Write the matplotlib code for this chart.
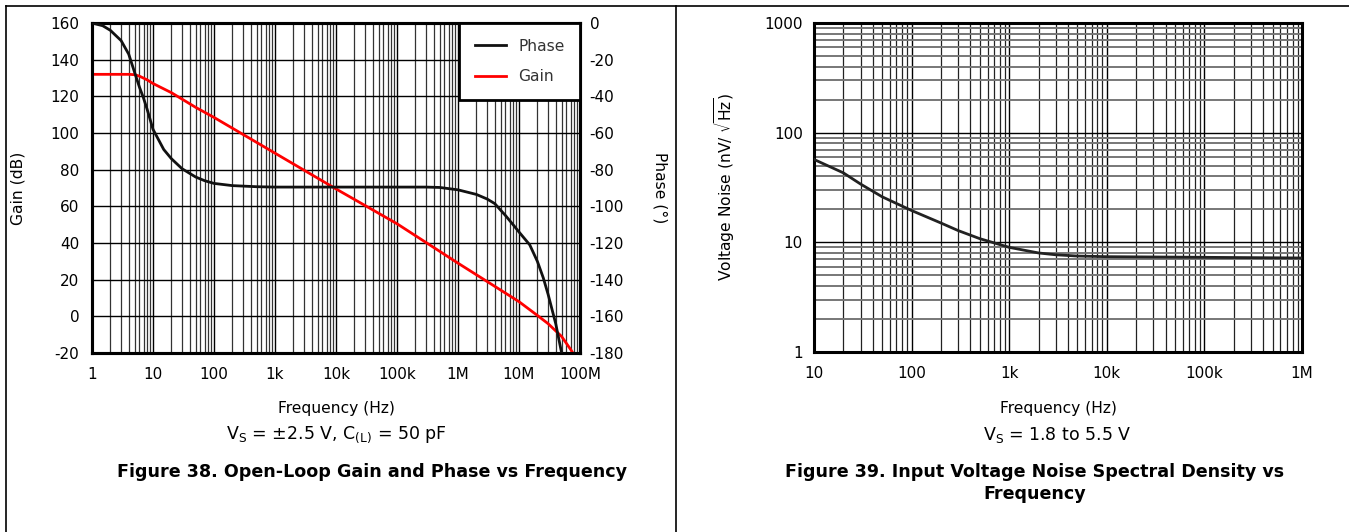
import matplotlib
matplotlib.use("Agg")
import matplotlib.pyplot as plt
from matplotlib.lines import Line2D
from matplotlib.ticker import FixedLocator, LogLocator, NullFormatter

plt.rcParams['font.family'] = ['DejaVu Sans']
plt.rcParams['axes.unicode_minus'] = False

# Figure 38 data: open-loop gain (dB) and phase (deg) vs frequency (Hz)
gain_freq = [1, 4, 5, 6, 8, 10, 20, 50, 100, 1e3, 1e4, 1e5, 1e6, 3e6, 1e7, 2e7, 3e7, 5e7, 7e7, 8e7]
gain_db = [132, 132, 131.8, 131, 129, 127, 122, 114, 108.5, 89, 69.5, 50.5, 29, 19, 8, 0.5, -4, -11, -18, -21]

phase_freq = [1, 1.5, 2, 3, 4, 5, 6, 7, 8, 10, 15, 20, 30, 50, 70, 100, 200, 500, 1e3,
              1e4, 1e5, 3e5, 5e5, 1e6, 2e6, 3e6, 4e6, 6e6, 8e6, 1e7, 1.5e7, 2e7, 2.5e7,
              3e7, 4e7, 5e7, 5.3e7]
phase_deg = [0, -1.5, -4, -9.6, -17, -27, -35, -41, -47, -58, -69, -74, -79.5, -84, -86,
             -87.5, -88.7, -89.3, -89.5, -89.5, -89.5, -89.5, -89.7, -91, -93.5, -96, -98.5,
             -105, -110, -114, -121, -130, -139, -148, -164, -180, -186]

x_ticks_38 = [1, 10, 100, 1e3, 1e4, 1e5, 1e6, 1e7, 1e8]
x_labels_38 = ['1', '10', '100', '1k', '10k', '100k', '1M', '10M', '100M']
gain_ticks = [-20, 0, 20, 40, 60, 80, 100, 120, 140, 160]
phase_ticks = [-180, -160, -140, -120, -100, -80, -60, -40, -20, 0]

# Figure 39 data: input voltage noise (nV/rtHz) vs frequency (Hz)
noise_freq = [10, 20, 30, 50, 100, 200, 300, 500, 1e3, 2e3, 3e3, 5e3, 1e4, 1e5, 1e6]
noise_val = [57, 43, 34, 26, 19.5, 15, 12.8, 10.8, 9.0, 8.0, 7.7, 7.5, 7.4, 7.3, 7.2]

x_ticks_39 = [10, 100, 1e3, 1e4, 1e5, 1e6]
x_labels_39 = ['10', '100', '1k', '10k', '100k', '1M']
y_ticks_39 = [1, 10, 100, 1000]
y_labels_39 = ['1', '10', '100', '1000']

W, H = 1349, 532
fig = plt.figure(figsize=(W / 100, H / 100), dpi=100)


def fx(px):
    return px / W


def fy(py):
    return 1 - py / H


TICK = 11
LAB = 11.2
CAP = 12.6

# ---- Figure 38 ----
ax = fig.add_axes([fx(92), fy(353), fx(580 - 92), (353 - 23) / H])
ax.set_xscale('log')
ax.set_xlim(1, 1e8)
ax.set_ylim(-20, 160)
ax.xaxis.set_major_locator(FixedLocator(x_ticks_38))
ax.set_xticklabels(x_labels_38)
ax.xaxis.set_minor_locator(LogLocator(base=10, subs=range(2, 10), numticks=20))
ax.xaxis.set_minor_formatter(NullFormatter())
ax.set_yticks(gain_ticks)
ax.set_yticklabels([str(v) for v in gain_ticks])
ax.grid(True, which='major', color='black', lw=1.0)
ax.grid(True, which='minor', color='#333333', lw=0.9)
ax.set_axisbelow(True)
for s in ax.spines.values():
    s.set_linewidth(2.2)
ax.tick_params(axis='x', which='both', length=0, labelsize=TICK, pad=10)
ax.tick_params(axis='y', which='both', length=0, labelsize=TICK, pad=9)
gain_line, = ax.plot(gain_freq, gain_db, color='#ff0000', lw=2, label='Gain', zorder=3)

ax2 = ax.twinx()
ax2.set_ylim(-180, 0)
ax2.set_yticks(phase_ticks)
ax2.set_yticklabels([str(v) for v in phase_ticks])
ax2.tick_params(length=0, labelsize=TICK, pad=7)
for s in ax2.spines.values():
    s.set_linewidth(2.2)
phase_line, = ax2.plot(phase_freq, phase_deg, color='#111111', lw=2, label='Phase', zorder=3)

leg = ax2.legend([phase_line, gain_line], ['Phase', 'Gain'], loc='upper right',
                 borderaxespad=0, fancybox=False, framealpha=1, fontsize=11.2,
                 handlelength=2.0, handletextpad=0.8, borderpad=1.0, labelspacing=1.0)
leg.get_frame().set_edgecolor('black')
leg.get_frame().set_linewidth(2)
for t in leg.get_texts():
    t.set_color('#333333')

fig.text(fx(336), fy(408), 'Frequency (Hz)', ha='center', va='center', fontsize=LAB)
fig.text(fx(18), fy(188), 'Gain (dB)', ha='center', va='center', rotation=90, fontsize=LAB)
fig.text(fx(660), fy(188), 'Phase (°)', ha='center', va='center', rotation=270, fontsize=LAB)
fig.text(fx(336), fy(435), r'V$_\mathregular{S}$ = ±2.5 V, C$_\mathregular{(L)}$ = 50 pF',
         ha='center', va='center', fontsize=12.5)
fig.text(fx(372), fy(472), 'Figure 38. Open-Loop Gain and Phase vs Frequency',
         ha='center', va='center', fontsize=CAP, fontweight='bold')

# ---- Figure 39 ----
bx = fig.add_axes([fx(814), fy(352), fx(1302 - 814), (352 - 23) / H])
bx.set_xscale('log')
bx.set_yscale('log')
bx.set_xlim(10, 1e6)
bx.set_ylim(1, 1000)
bx.xaxis.set_major_locator(FixedLocator(x_ticks_39))
bx.set_xticklabels(x_labels_39)
bx.yaxis.set_major_locator(FixedLocator(y_ticks_39))
bx.set_yticklabels(y_labels_39)
for a in (bx.xaxis, bx.yaxis):
    a.set_minor_locator(LogLocator(base=10, subs=range(2, 10), numticks=20))
    a.set_minor_formatter(NullFormatter())
bx.grid(True, which='major', color='black', lw=1.0)
bx.grid(True, which='minor', axis='x', color='#222222', lw=0.9)
bx.grid(True, which='minor', axis='y', color='#777777', lw=1.4)
bx.set_axisbelow(True)
for s in bx.spines.values():
    s.set_linewidth(2.2)
bx.tick_params(axis='x', which='both', length=0, labelsize=TICK, pad=10)
bx.tick_params(axis='y', which='both', length=0, labelsize=TICK, pad=8)
bx.plot(noise_freq, noise_val, color='#222222', lw=2, zorder=3)

fig.text(fx(1058), fy(408), 'Frequency (Hz)', ha='center', va='center', fontsize=LAB)
fig.text(fx(725), fy(187), r'Voltage Noise (nV/ $\sqrt{\mathrm{Hz}}$)',
         ha='center', va='center', rotation=90, fontsize=LAB)
fig.text(fx(1057), fy(435), r'V$_\mathregular{S}$ = 1.8 to 5.5 V',
         ha='center', va='center', fontsize=12.5)
fig.text(fx(1035), fy(472), 'Figure 39. Input Voltage Noise Spectral Density vs',
         ha='center', va='center', fontsize=CAP, fontweight='bold')
fig.text(fx(1035), fy(494), 'Frequency',
         ha='center', va='center', fontsize=CAP, fontweight='bold')

# frame lines
fig.add_artist(Line2D([fx(5.5), fx(5.5)], [0, fy(6)], color='black', lw=1.2))
fig.add_artist(Line2D([fx(5.5), 1], [fy(6), fy(6)], color='black', lw=1.2))
fig.add_artist(Line2D([fx(676), fx(676)], [0, fy(6)], color='black', lw=1.2))

fig.savefig('out.png', dpi=100)
